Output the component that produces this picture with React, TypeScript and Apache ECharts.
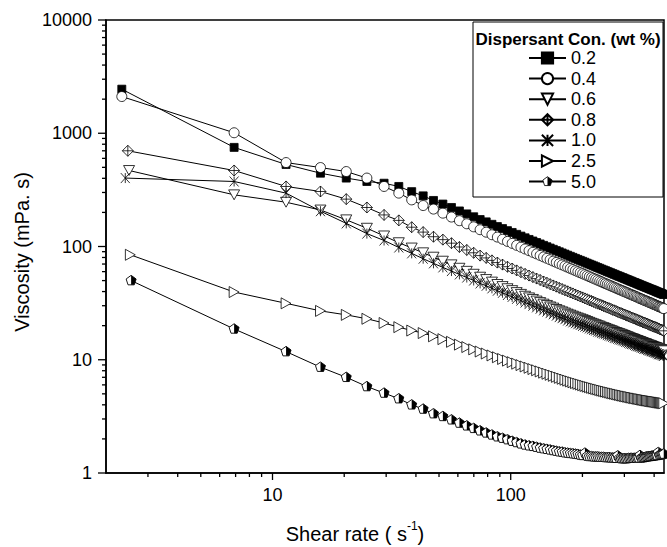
import React, { useEffect, useRef } from "react";
import * as echarts from "echarts";

// ---------- data ----------
const seriesNames = ["0.2", "0.4", "0.6", "0.8", "1.0", "2.5", "5.0"];

// shear rate (s^-1), shared grid of the measurement
const shearRate = [
  2.4, 6.9, 11.4, 15.9, 20.4, 24.9, 29.4, 33.9, 38.4, 42.9,
  47.4, 51.9, 56.4, 60.9, 65.4, 69.9, 74.4, 78.9, 83.4, 87.9,
  92.4, 96.9, 101.4, 105.9, 110.4, 114.9, 119.4, 123.9, 128.4, 132.9,
  137.4, 141.9, 146.4, 150.9, 155.4, 159.9, 164.4, 168.9, 173.4, 177.9,
  182.4, 186.9, 191.4, 195.9, 200.4, 204.9, 209.4, 213.9, 218.4, 222.9,
  227.4, 231.9, 236.4, 240.9, 245.4, 249.9, 254.4, 258.9, 263.4, 267.9,
  272.4, 276.9, 281.4, 285.9, 290.4, 294.9, 299.4, 303.9, 308.4, 312.9,
  317.4, 321.9, 326.4, 330.9, 335.4, 339.9, 344.4, 348.9, 353.4, 357.9,
  362.4, 366.9, 371.4, 375.9, 380.4, 384.9, 389.4, 393.9, 398.4, 402.9,
  407.4, 411.9, 416.4, 420.9, 425.4, 429.9, 434.4, 438.9, 443.4, 447.9,
];
// first shear rate of each series (slightly different per run)
const firstShearRate = [2.33, 2.33, 2.5, 2.47, 2.41, 2.53, 2.55];

const visc02 = [
  2450, 750, 530, 444, 402, 375, 362, 339, 305, 280, 255, 237, 221, 206,
  194, 183, 173, 165, 157, 150, 144, 138, 133, 128,
  123.5, 119.3, 115.4, 111.8, 108.5, 105.3, 102.3, 99.5, 96.9, 94.4,
  92.0, 89.8, 87.7, 85.7, 83.8, 81.9, 80.2, 78.5, 76.9, 75.4,
  74.0, 72.6, 71.2, 69.9, 68.7, 67.5, 66.3, 65.2, 64.2, 63.1,
  62.1, 61.2, 60.2, 59.3, 58.5, 57.6, 56.8, 56.0, 55.2, 54.5,
  53.8, 53.1, 52.4, 51.7, 51.1, 50.4, 49.8, 49.2, 48.6, 48.1,
  47.5, 47.0, 46.4, 45.9, 45.4, 44.9, 44.4, 44.0, 43.5, 43.1,
  42.6, 42.2, 41.8, 41.4, 41.0, 40.6, 40.2, 39.8, 39.4, 39.1,
  38.7, 38.4, 38.0, 37.7, 37.4, 37.0,
];
const visc04 = [
  2110, 1010, 551, 498, 459, 402, 339, 296, 258, 230, 214, 197, 182, 169,
  158.7, 149.2, 140.7, 133.8, 127.0, 121.1, 115.9, 110.9, 106.6, 102.4,
  98.7, 95.1, 91.9, 88.8, 86.1, 83.4, 80.9, 78.6, 76.4, 74.3,
  72.4, 70.5, 68.8, 67.2, 65.6, 64.0, 62.6, 61.2, 59.9, 58.7,
  57.5, 56.4, 55.3, 54.2, 53.2, 52.2, 51.3, 50.4, 49.5, 48.7,
  47.8, 47.1, 46.3, 45.6, 44.9, 44.2, 43.6, 42.9, 42.3, 41.7,
  41.1, 40.6, 40.0, 39.5, 39.0, 38.4, 37.9, 37.5, 37.0, 36.6,
  36.1, 35.7, 35.2, 34.8, 34.4, 34.0, 33.6, 33.3, 32.9, 32.6,
  32.2, 31.9, 31.6, 31.2, 30.9, 30.6, 30.3, 30.0, 29.6, 29.4,
  29.1, 28.9, 28.5, 28.3, 28.1, 27.8,
];
const visc06 = [
  469, 286, 246, 210, 172, 145, 124, 108, 97, 88, 80.5, 74.2, 68.9, 64.3,
  60.4, 56.9, 53.6, 51.1, 48.5, 46.2, 44.3, 42.4, 40.8, 39.2,
  37.8, 36.4, 35.2, 34.1, 33.0, 32.0, 31.0, 30.2, 29.3, 28.6,
  27.8, 27.1, 26.5, 25.9, 25.3, 24.8, 24.3, 23.8, 23.4, 23.0,
  22.6, 22.2, 21.8, 21.4, 21.0, 20.7, 20.4, 20.0, 19.8, 19.4,
  19.2, 18.9, 18.6, 18.4, 18.1, 17.9, 17.6, 17.4, 17.2, 17.0,
  16.8, 16.6, 16.4, 16.2, 16.0, 15.8, 15.6, 15.4, 15.3, 15.1,
  14.9, 14.8, 14.6, 14.5, 14.3, 14.2, 14.0, 13.9, 13.8, 13.6,
  13.5, 13.4, 13.3, 13.1, 13.0, 12.9, 12.8, 12.7, 12.5, 12.5,
  12.3, 12.3, 12.1, 12.0, 12.0, 11.8,
];
const visc08 = [
  700, 469, 339, 306, 262, 221, 190, 170, 148, 134, 122, 115, 107, 99,
  93.2, 88.0, 83.1, 79.3, 75.4, 72.1, 69.2, 66.3, 63.9, 61.5,
  59.3, 57.3, 55.4, 53.7, 52.1, 50.6, 49.1, 47.8, 46.5, 45.3,
  44.2, 43.1, 42.1, 41.1, 40.2, 39.3, 38.5, 37.7, 36.9, 36.2,
  35.5, 34.8, 34.2, 33.5, 33.0, 32.4, 31.8, 31.3, 30.8, 30.3,
  29.8, 29.4, 28.9, 28.5, 28.1, 27.6, 27.3, 26.9, 26.5, 26.1,
  25.8, 25.5, 25.1, 24.8, 24.5, 24.2, 23.9, 23.6, 23.3, 23.1,
  22.8, 22.5, 22.3, 22.0, 21.8, 21.5, 21.3, 21.1, 20.9, 20.7,
  20.4, 20.2, 20.0, 19.8, 19.6, 19.5, 19.3, 19.1, 18.9, 18.7,
  18.5, 18.4, 18.2, 18.0, 17.9, 17.7,
];
const visc10 = [
  402, 375, 296, 205, 160, 130, 113, 98, 87, 78, 71, 65.4, 60.7, 56.7,
  53.2, 50.1, 47.2, 45.0, 42.7, 40.7, 39.0, 37.3, 35.9, 34.5,
  33.3, 32.0, 31.0, 30.0, 29.0, 28.2, 27.3, 26.6, 25.8, 25.2,
  24.5, 23.8, 23.3, 22.8, 22.2, 21.8, 21.4, 21.0, 20.6, 20.3,
  19.9, 19.6, 19.3, 18.9, 18.6, 18.3, 18.1, 17.7, 17.5, 17.2,
  17.0, 16.8, 16.5, 16.3, 16.1, 15.9, 15.6, 15.5, 15.3, 15.1,
  15.0, 14.8, 14.6, 14.4, 14.3, 14.1, 13.9, 13.8, 13.7, 13.5,
  13.3, 13.2, 13.1, 13.0, 12.8, 12.7, 12.5, 12.5, 12.4, 12.2,
  12.1, 12.0, 11.9, 11.8, 11.7, 11.6, 11.5, 11.4, 11.2, 11.2,
  11.1, 11.1, 10.9, 10.8, 10.8, 10.6,
];
const visc25 = [
  84.5, 39.6, 31.5, 27, 24.9, 23, 21.1, 19.4, 18.1, 17.2, 16.1, 15.2, 14.4, 13.6,
  12.94, 12.35, 11.82, 11.35, 10.91, 10.52, 10.16, 9.82, 9.52, 9.23,
  8.97, 8.72, 8.49, 8.27, 8.07, 7.88, 7.69, 7.52, 7.36, 7.21,
  7.06, 6.92, 6.79, 6.66, 6.54, 6.43, 6.32, 6.22, 6.13, 6.04,
  5.95, 5.87, 5.79, 5.72, 5.65, 5.58, 5.52, 5.46, 5.40, 5.34,
  5.29, 5.24, 5.19, 5.14, 5.09, 5.05, 5.01, 4.97, 4.93, 4.89,
  4.85, 4.82, 4.78, 4.75, 4.72, 4.69, 4.66, 4.63, 4.60, 4.58,
  4.55, 4.53, 4.50, 4.48, 4.46, 4.43, 4.41, 4.39, 4.37, 4.35,
  4.33, 4.31, 4.30, 4.28, 4.26, 4.25, 4.23, 4.21, 4.20, 4.18,
  4.17, 4.15, 4.14, 4.13, 4.11, 4.10,
];
const visc50 = [
  50, 18.7, 11.8, 8.6, 7.0, 5.8, 5.08, 4.53, 4.0, 3.67, 3.34, 3.16, 2.95, 2.76,
  2.61, 2.48, 2.36, 2.26, 2.17, 2.09, 2.03, 1.97, 1.91, 1.86,
  1.81, 1.77, 1.74, 1.72, 1.69, 1.66, 1.64, 1.62, 1.60, 1.58,
  1.56, 1.54, 1.53, 1.51, 1.50, 1.49, 1.48, 1.47, 1.46, 1.44,
  1.43, 1.50, 1.41, 1.40, 1.40, 1.39, 1.39, 1.39, 1.38, 1.38,
  1.38, 1.37, 1.37, 1.37, 1.36, 1.36, 1.36, 1.35, 1.42, 1.35,
  1.34, 1.34, 1.34, 1.34, 1.34, 1.35, 1.35, 1.35, 1.35, 1.35,
  1.35, 1.36, 1.36, 1.43, 1.36, 1.37, 1.37, 1.38, 1.39, 1.39,
  1.40, 1.40, 1.41, 1.41, 1.42, 1.42, 1.43, 1.43, 1.52, 1.44,
  1.45, 1.46, 1.46, 1.47, 1.48, 1.48,
];
const seriesValues = [visc02, visc04, visc06, visc08, visc10, visc25, visc50];

// axis ticks / labels
const xTickLabels = ["10", "100"];
const yTickLabels = ["1", "10", "100", "1000", "10000"];
const xMajorTicks = [10, 100];
const xMinorTicks = [3, 4, 5, 6, 7, 8, 9, 20, 30, 40, 50, 60, 70, 80, 90, 200, 300, 400];
const yMajorTicks = [1, 10, 100, 1000, 10000];
const yMinorTicks = [
  2, 3, 4, 5, 6, 7, 8, 9, 20, 30, 40, 50, 60, 70, 80, 90,
  200, 300, 400, 500, 600, 700, 800, 900, 2000, 3000, 4000, 5000, 6000, 7000, 8000, 9000,
];

const X_MIN = 2;
const X_MAX = 440;
const Y_MIN = 1;
const Y_MAX = 10000;

// ---------- styling ----------
const FONT = '"Liberation Sans", Arial, Helvetica, sans-serif';
const SYM_DOWN = "path://M-10,-8L10,-8L0,10Z";
const SYM_RIGHT = "path://M-8,-10L10,0L-8,10Z";
const SYM_DIAMOND = "path://M0,-10L10,0L0,10L-10,0Z M0,-10L0,10 M-10,0L10,0";
const SYM_X = "path://M-9,-10L9,10 M-9,10L9,-10 M0,-10L0,10";
// half-filled pentagon (left white, right black) as an inline SVG image symbol
const PENT_SVG =
  "<svg xmlns='http://www.w3.org/2000/svg' width='24' height='24' viewBox='-12 -12 24 24'>" +
  "<path d='M0,-10.5 L10,-3.2 L6.2,8.5 L-6.2,8.5 L-10,-3.2 Z' fill='white'/>" +
  "<path d='M0,-10.5 L10,-3.2 L6.2,8.5 L0,8.5 Z' fill='black'/>" +
  "<path d='M0,-10.5 L10,-3.2 L6.2,8.5 L-6.2,8.5 L-10,-3.2 Z' fill='none' stroke='black' stroke-width='1.8'/>" +
  "</svg>";
const SYM_PENT = "image://data:image/svg+xml;charset=utf-8," + encodeURIComponent(PENT_SVG);

const symbolStyles = [
  { symbol: "rect", fill: "#000", size: 8 },
  { symbol: "circle", fill: "#fff", size: 10 },
  { symbol: SYM_DOWN, fill: "#fff", size: 11 },
  { symbol: SYM_DIAMOND, fill: "#fff", size: 11 },
  { symbol: SYM_X, fill: "#fff", size: 10 },
  { symbol: SYM_RIGHT, fill: "#fff", size: 11 },
  { symbol: SYM_PENT, fill: "#000", size: 12 },
];

export default function App() {
  const ref = useRef<HTMLDivElement>(null);

  useEffect(() => {
    if (!ref.current) return;
    const chart = echarts.init(ref.current, null, { renderer: "svg" });

    const lineSeries = seriesNames.map((name, k) => ({
      name,
      type: "line",
      data: shearRate.map((x, i) => [i === 0 ? firstShearRate[k] : x, seriesValues[k][i]]),
      symbol: symbolStyles[k].symbol,
      symbolSize: symbolStyles[k].size,
      symbolKeepAspect: true,
      showAllSymbol: true,
      itemStyle: { color: symbolStyles[k].fill, borderColor: "#000", borderWidth: 0.8 },
      lineStyle: { color: "#000", width: 1 },
      emphasis: { disabled: true },
      z: 3,
    }));

    const tickSeries = (values: number[], axis: "x" | "y", len: number) => ({
      type: "custom",
      silent: true,
      z: 6,
      clip: false,
      data: values.map((v) => (axis === "x" ? [v, Y_MIN] : [X_MIN, v])),
      renderItem: (_params: any, api: any) => {
        const p = api.coord([api.value(0), api.value(1)]);
        const shape =
          axis === "x"
            ? { x1: p[0], y1: p[1], x2: p[0], y2: p[1] + len }
            : { x1: p[0] - len, y1: p[1], x2: p[0], y2: p[1] };
        return { type: "line", shape, style: { stroke: "#000", lineWidth: 1.3 } };
      },
    });

    const labelFmt = (allowed: string[]) => (v: number) => {
      const s = String(Math.round(v));
      return Math.abs(v - Math.round(v)) < 1e-6 && allowed.includes(s) ? s : "";
    };

    chart.setOption({
      animation: false,
      backgroundColor: "#fff",
      grid: {
        left: 106,
        top: 20,
        right: -1,
        bottom: 74,
        show: true,
        borderColor: "#000",
        borderWidth: 1.5,
      },
      xAxis: {
        type: "log",
        logBase: 10,
        min: X_MIN,
        max: X_MAX,
        axisLine: { show: true, lineStyle: { color: "#000", width: 1.5 } },
        axisTick: { show: false },
        splitLine: { show: false },
        axisLabel: {
          formatter: labelFmt(xTickLabels),
          fontSize: 18,
          fontFamily: FONT,
          color: "#000",
          margin: 13,
        },
      },
      yAxis: {
        type: "log",
        logBase: 10,
        min: Y_MIN,
        max: Y_MAX,
        axisLine: { show: true, lineStyle: { color: "#000", width: 1.5 } },
        axisTick: { show: false },
        splitLine: { show: false },
        axisLabel: {
          formatter: labelFmt(yTickLabels),
          fontSize: 18,
          fontFamily: FONT,
          color: "#000",
          margin: 14,
        },
      },
      legend: {
        data: seriesNames,
        orient: "vertical",
        left: 523,
        top: 44,
        itemWidth: 37,
        itemHeight: 14,
        itemGap: 2.6,
        selectedMode: false,
        textStyle: { fontSize: 18, fontFamily: FONT, color: "#000" },
        z: 20,
      },
      graphic: {
        elements: [
          {
            type: "rect",
            z: 10,
            shape: { x: 473, y: 22, width: 190, height: 175 },
            style: { fill: "#fff", stroke: "#000", lineWidth: 1 },
          },
          {
            type: "text",
            z: 11,
            x: 568,
            y: 39,
            style: {
              text: "Dispersant Con. (wt %)",
              font: `bold 17px ${FONT}`,
              fill: "#000",
              align: "center",
              verticalAlign: "middle",
            },
          },
          {
            type: "text",
            z: 11,
            x: 22,
            y: 252,
            rotation: Math.PI / 2,
            style: {
              text: "Viscosity (mPa. s)",
              font: `20px ${FONT}`,
              fill: "#000",
              align: "center",
              verticalAlign: "middle",
            },
          },
          {
            type: "text",
            z: 11,
            x: 355,
            y: 534,
            style: {
              text: "{n|Shear rate ( s}{s|-1}{n|)}",
              fill: "#000",
              align: "center",
              verticalAlign: "middle",
              rich: {
                n: { fontSize: 20, fontFamily: FONT, fill: "#000", verticalAlign: "bottom" },
                s: {
                  fontSize: 12,
                  fontFamily: FONT,
                  fill: "#000",
                  verticalAlign: "bottom",
                  lineHeight: 12,
                  padding: [0, 0, 12, 0],
                },
              },
            },
          },
        ],
      },
      series: [
        ...lineSeries,
        tickSeries(xMajorTicks, "x", 7),
        tickSeries(xMinorTicks, "x", 4),
        tickSeries(yMajorTicks, "y", 8),
        tickSeries(yMinorTicks, "y", 4),
      ],
    });

    return () => chart.dispose();
  }, []);

  return (
    <div
      ref={ref}
      style={{ position: "fixed", left: 0, top: 0, width: 667, height: 547, background: "#fff" }}
    />
  );
}
